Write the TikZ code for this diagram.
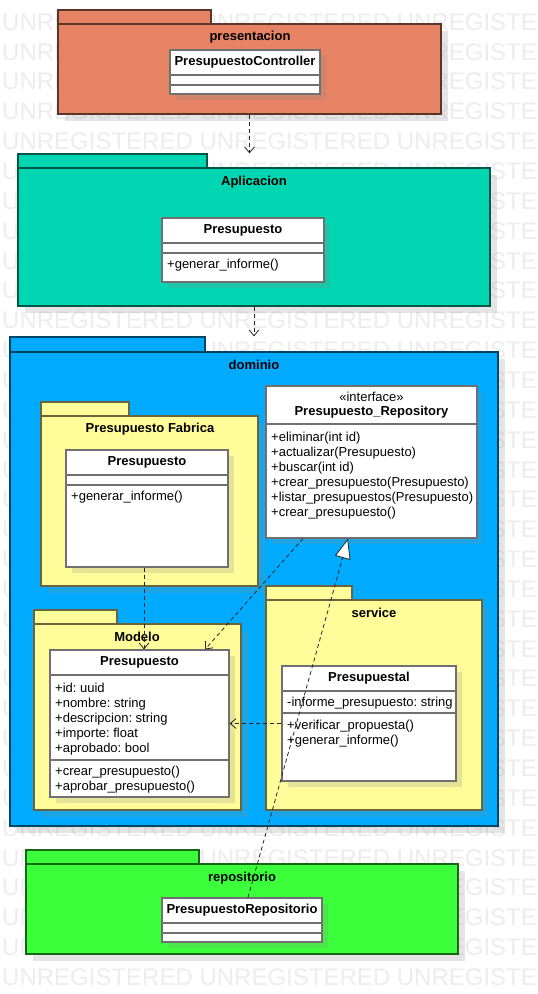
\documentclass[tikz,border=0pt]{standalone}
\usepackage{fontspec}
\setmainfont{Liberation Sans}
\usetikzlibrary{arrows.meta, fit, shadows, calc}
\frenchspacing

\definecolor{presColor}{RGB}{229,131,100}
\definecolor{apliColor}{RGB}{0,214,178}
\definecolor{domColor}{RGB}{0,170,255}
\definecolor{subColor}{RGB}{255,252,153}
\definecolor{repoColor}{RGB}{58,255,58}
\definecolor{clsLine}{RGB}{112,112,112}
\definecolor{wmGray}{RGB}{237,237,237}

\newcommand\umlfont{\fontsize{13}{15}\selectfont}

\tikzset{
  every node/.style={font=\umlfont},
  pkg/.style={draw=#1!40!black, fill=#1, line width=1.2pt, inner sep=0pt}, % package tab
  pkgbody/.style={pkg=#1, drop shadow={shadow xshift=7pt, shadow yshift=-7pt,
      fill=black!45, opacity=.22}}, % package body with its shadow
  cls/.style={draw=clsLine, fill=white, line width=1.1pt, inner sep=0pt,
    drop shadow={shadow xshift=6pt, shadow yshift=-6pt, fill=black!45, opacity=.22}},
  divline/.style={draw=clsLine, line width=1.1pt},
  pkglbl/.style={font=\umlfont\bfseries, inner sep=0pt},
  clsname/.style={font=\umlfont\bfseries, inner sep=0pt},
  member/.style={anchor=base west, inner sep=0pt},
  wmark/.style={anchor=west, inner sep=0pt, text=wmGray,
    font=\fontsize{24}{24}\selectfont},
  dep/.style={draw=black!85, line width=.8pt, dash pattern=on 4pt off 3pt,
    -{Straight Barb[length=6pt,width=10pt]}}, % dependency
  real/.style={draw=black!85, line width=.8pt, dash pattern=on 4pt off 3pt,
    -{Triangle[length=20pt,width=16pt,fill=white]}}, % realization
}

\begin{document}
\begin{tikzpicture}[x=1pt, y=-1pt]
  \useasboundingbox (0,0) rectangle (538,994);
  \fill[white] (0,0) rectangle (538,994);

  % watermark
  \begin{scope}
    \clip (0,0) rectangle (538,994);
    \foreach \k in {0,...,32}
      \node[wmark] (wm\k) at (2,{22+29.85*\k}) {UNREGISTERED UNREGISTERED UNREGISTERED};
  \end{scope}

  % presentacion
  \node[pkgbody=presColor, fit={(58,24) (441,114)}] (presBody) {};
  \node[pkg=presColor, fit={(58,10) (211,24)}] (presTab) {};
  \node[pkglbl] (presLbl) at (250,37) {presentacion};
  \node[cls, fit={(170,50) (320,94)}] (ctrlCls) {};
  \draw[divline] (ctrlCls.west |- 0,75) -- (ctrlCls.east |- 0,75)
                 (ctrlCls.west |- 0,85) -- (ctrlCls.east |- 0,85);
  \node[clsname] (ctrlName) at (245,62.5) {PresupuestoController};

  % Aplicacion
  \node[pkgbody=apliColor, fit={(18,168) (490,306)}] (apliBody) {};
  \node[pkg=apliColor, fit={(18,154) (207,168)}] (apliTab) {};
  \node[pkglbl] (apliLbl) at (254,182) {Aplicacion};
  \node[cls, fit={(162,218) (324,282)}] (apliCls) {};
  \draw[divline] (apliCls.west |- 0,243) -- (apliCls.east |- 0,243)
                 (apliCls.west |- 0,253) -- (apliCls.east |- 0,253);
  \node[clsname] (apliName) at (243,230.5) {Presupuesto};
  \node[member] (apliOp) at (167,268.5) {+generar\_informe()};

  % dominio
  \node[pkgbody=domColor, fit={(10,352) (498,826)}] (domBody) {};
  \node[pkg=domColor, fit={(10,337) (205,352)}] (domTab) {};
  \node[pkglbl] (domLbl) at (254,365) {dominio};

  % Presupuesto Fabrica
  \node[pkgbody=subColor, fit={(41,416) (258,586)}] (fabBody) {};
  \node[pkg=subColor, fit={(41,402) (129,416)}] (fabTab) {};
  \node[pkglbl] (fabLbl) at (150,429) {Presupuesto Fabrica};
  \node[cls, fit={(66,450) (228,567)}] (fabCls) {};
  \draw[divline] (fabCls.west |- 0,475) -- (fabCls.east |- 0,475)
                 (fabCls.west |- 0,485) -- (fabCls.east |- 0,485);
  \node[clsname] (fabName) at (147,462.5) {Presupuesto};
  \node[member] (fabOp) at (71,500.5) {+generar\_informe()};

  % interface
  \node[cls, fit={(266,386) (477,538)}] (repoIface) {};
  \draw[divline] (repoIface.west |- 0,424) -- (repoIface.east |- 0,424);
  \node[inner sep=0pt] (ifaceStereo) at (371.5,397) {«interface»};
  \node[clsname] (ifaceName) at (371.5,412) {Presupuesto\_Repository};
  \foreach \op [count=\i from 0] in {+eliminar(int id), +actualizar(Presupuesto),
      +buscar(int id), +crear\_presupuesto(Presupuesto),
      +listar\_presupuestos(Presupuesto), +crear\_presupuesto()}
    \node[member] (ifaceOp\i) at (271,{441.5+15*\i}) {\op};

  % service
  \node[pkgbody=subColor, fit={(266,600) (482,810)}] (servBody) {};
  \node[pkg=subColor, fit={(266,586) (352,600)}] (servTab) {};
  \node[pkglbl] (servLbl) at (374,613) {service};
  \node[cls, fit={(282,666) (456,781)}] (servCls) {};
  \draw[divline] (servCls.west |- 0,691) -- (servCls.east |- 0,691)
                 (servCls.west |- 0,713) -- (servCls.east |- 0,713);
  \node[clsname] (servName) at (369,678.5) {Presupuestal};
  \node[member] (servAttr) at (287,706.5) {-informe\_presupuesto: string};
  \node[member] (servOp0) at (287,729.5) {+verificar\_propuesta()};
  \node[member] (servOp1) at (287,744.5) {+generar\_informe()};

  % Modelo
  \node[pkgbody=subColor, fit={(34,624) (241,810)}] (modBody) {};
  \node[pkg=subColor, fit={(34,610) (117,624)}] (modTab) {};
  \node[pkglbl] (modLbl) at (137,637) {Modelo};
  \node[cls, fit={(50,650) (229,797)}] (modCls) {};
  \draw[divline] (modCls.west |- 0,675) -- (modCls.east |- 0,675)
                 (modCls.west |- 0,760) -- (modCls.east |- 0,760);
  \node[clsname] (modName) at (139.5,662.5) {Presupuesto};
  \foreach \at [count=\i from 0] in {+id: uuid, +nombre: string,
      +descripcion: string, +importe: float, +aprobado: bool}
    \node[member] (modAttr\i) at (55,{692.5+15*\i}) {\at};
  \node[member] (modOp0) at (55,775.5) {+crear\_presupuesto()};
  \node[member] (modOp1) at (55,790.5) {+aprobar\_presupuesto()};

  % repositorio
  \node[pkgbody=repoColor, fit={(26,864) (458,954)}] (repoBody) {};
  \node[pkg=repoColor, fit={(26,850) (199,864)}] (repoTab) {};
  \node[pkglbl] (repoLbl) at (242,878) {repositorio};
  \node[cls, fit={(162,898) (322,942)}] (repoCls) {};
  \draw[divline] (repoCls.west |- 0,923) -- (repoCls.east |- 0,923)
                 (repoCls.west |- 0,933) -- (repoCls.east |- 0,933);
  \node[clsname] (repoName) at (242,910.5) {PresupuestoRepositorio};

  % connectors
  \draw[dep] (presBody.south) -- (presBody.south |- apliTab.north);
  \draw[dep] (apliBody.south) -- (apliBody.south |- domTab.north);
  \draw[dep] ([xshift=-3pt]fabCls.south) -- ([xshift=-3pt]fabCls.south |- modCls.north);
  \draw[dep] ([xshift=-68.5pt]repoIface.south) -- ([xshift=65.5pt]modCls.north);
  \draw[dep] (servCls.west) -- (modCls.east);
  \draw[real] ([xshift=6pt]repoCls.north) -- ([xshift=-23.5pt]repoIface.south);
\end{tikzpicture}
\end{document}
